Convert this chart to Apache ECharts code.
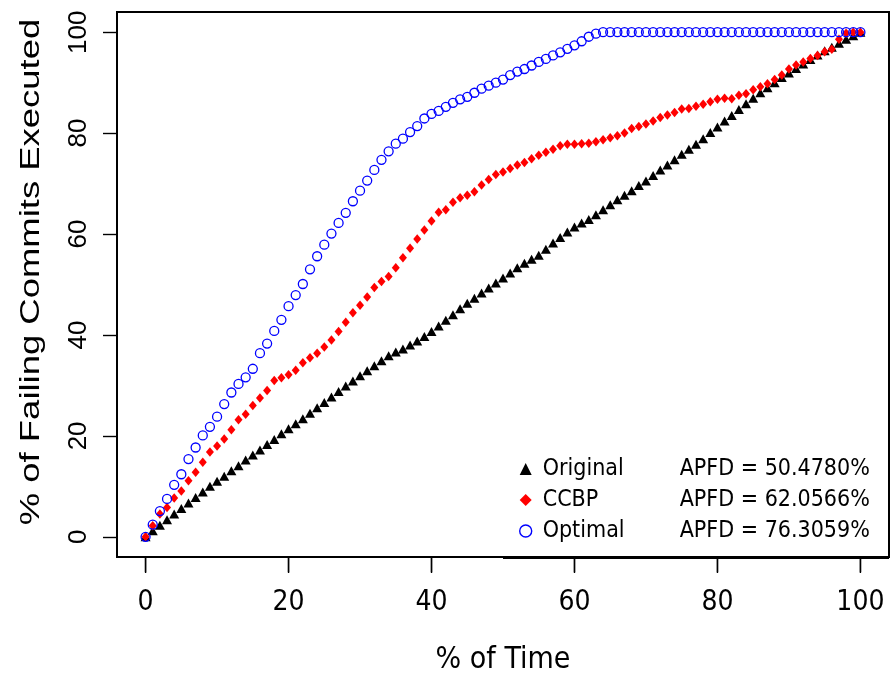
<!DOCTYPE html>
<html>
<head>
<meta charset="utf-8">
<script src="https://cdn.jsdelivr.net/npm/echarts@6/dist/echarts.min.js"></script>
<style>html,body{margin:0;padding:0;background:#fff;}#c{width:891px;height:678px;}</style>
</head>
<body>
<div id="c"></div>
<script>
const timePct = [0,1,2,3,4,5,6,7,8,9,10,11,12,13,14,15,16,17,18,19,20,21,22,23,24,25,26,27,28,29,30,31,32,33,34,35,36,37,38,39,40,41,42,43,44,45,46,47,48,49,50,51,52,53,54,55,56,57,58,59,60,61,62,63,64,65,66,67,68,69,70,71,72,73,74,75,76,77,78,79,80,81,82,83,84,85,86,87,88,89,90,91,92,93,94,95,96,97,98,99,100];
const original = [0,1.2,2.3,3.4,4.5,5.6,6.7,7.8,8.9,10.0,11.0,12.0,13.1,14.1,15.2,16.2,17.2,18.3,19.3,20.4,21.4,22.4,23.4,24.5,25.6,26.6,27.7,28.8,29.9,30.9,31.9,32.9,33.9,34.9,35.9,36.6,37.2,38.0,38.8,39.7,40.7,41.8,42.9,44.0,45.2,46.3,47.3,48.3,49.3,50.3,51.3,52.3,53.3,54.2,55.0,55.8,57.0,58.2,59.3,60.4,61.4,62.2,62.9,63.8,64.8,65.8,66.8,67.7,68.6,69.6,70.5,71.6,72.7,73.7,74.7,75.8,76.8,77.8,78.9,80.1,81.2,82.4,83.5,84.7,85.8,86.9,88.0,89.0,90.0,91.0,91.9,92.8,93.7,94.6,95.5,96.3,97.0,97.8,98.6,99.3,100];
const ccbp = [0,2.2,4.5,5.8,7.7,9.1,11.1,12.8,14.8,16.8,18,19.4,21.2,23.2,24.3,26,27.5,29,31,31.5,32.1,33,34.5,35.5,36.4,37.6,39,40.7,42.5,44.4,45.9,47.5,49.4,50.6,51.6,53.3,55.3,57.2,59,60.8,62.6,64.3,64.8,66.3,67.2,67.7,68.4,69.7,70.8,71.8,72.3,73,73.7,74.2,74.9,75.6,76.2,76.8,77.5,77.8,77.8,77.9,78,78.3,78.7,79.1,79.5,80,80.9,81.3,81.8,82.4,83.1,83.6,84.1,84.8,84.9,85.3,85.7,86.2,86.7,86.9,86.8,87.5,87.8,88.6,89.2,89.8,90.6,91.5,92.7,93.5,94.1,94.8,95.4,96.1,96.6,98.6,99.8,100,100];
const optimal = [0,2.4,5.1,7.5,10.3,12.4,15.4,17.7,20.1,21.8,23.8,26.3,28.6,30.3,31.6,33.3,36.4,38.3,40.8,43,45.7,47.9,50.1,53,55.6,57.9,60.1,62.2,64.2,66.5,68.6,70.6,72.7,74.7,76.4,77.9,78.9,80.2,81.4,82.9,83.8,84.4,85.2,86,86.7,87.2,88,88.8,89.4,90,90.6,91.5,92.2,92.7,93.4,94.1,94.7,95.4,96,96.7,97.4,98.2,99.1,99.7,100,100,100,100,100,100,100,100,100,100,100,100,100,100,100,100,100,100,100,100,100,100,100,100,100,100,100,100,100,100,100,100,100,100,100,100,100];
const seriesNames = ['Original', 'CCBP', 'Optimal'];
const apfdLabels = ['APFD = 50.4780%', 'APFD = 62.0566%', 'APFD = 76.3059%'];
const xTicks = [0, 20, 40, 60, 80, 100];
const yTicks = [0, 20, 40, 60, 80, 100];
const xTitle = '% of Time';
const yTitle = '% of Failing Commits Executed';

const NARROW = "'Liberation Sans Narrow', 'DejaVu Sans Condensed', 'Liberation Sans', sans-serif";
const REG = "'Liberation Sans', Arial, sans-serif";
const AXIS_MIN = -4, AXIS_MAX = 104;

function pairs(ys) { return timePct.map((x, i) => [x, ys[i]]); }

const chart = echarts.init(document.getElementById('c'), null, {renderer: 'canvas'});
chart.setOption({
  backgroundColor: '#fff',
  animation: false,
  grid: {left: 117, right: 2, top: 12, bottom: 121, show: true, borderColor: '#000', borderWidth: 2, backgroundColor: 'transparent', outerBoundsMode: 'none', containLabel: false},
  xAxis: {
    type: 'value', min: AXIS_MIN, max: AXIS_MAX, position: 'bottom',
    axisLine: {show: true, onZero: false, lineStyle: {color: '#000', width: 2}},
    splitLine: {show: false},
    axisTick: {show: true, inside: false, customValues: xTicks, length: 15, lineStyle: {color: '#000', width: 1.4}},
    axisLabel: {customValues: xTicks, margin: 32, fontFamily: NARROW, fontSize: 28, color: '#000'},
    name: xTitle, nameLocation: 'middle', nameGap: 88,
    nameTextStyle: {fontFamily: NARROW, fontSize: 30, color: '#000'}
  },
  yAxis: {
    type: 'value', min: AXIS_MIN, max: AXIS_MAX, position: 'left',
    axisLine: {show: true, onZero: false, lineStyle: {color: '#000', width: 2}},
    splitLine: {show: false},
    axisTick: {show: true, inside: false, customValues: yTicks, length: 14, lineStyle: {color: '#000', width: 1.4}},
    axisLabel: {customValues: yTicks, rotate: 90, margin: 25, fontFamily: REG, fontSize: 26, color: '#000'}
  },
  legend: {
    orient: 'vertical', left: 503, top: 443,
    padding: [14, 6, 9, 16], itemWidth: 12, itemHeight: 12, itemGap: 7,
    backgroundColor: '#fff', borderWidth: 0, z: 10,
    selectedMode: false,
    textStyle: {
      fontFamily: NARROW, fontSize: 23, color: '#000', lineHeight: 24,
      rich: {
        a: {width: 137, padding: [0, 0, 0, 6], fontFamily: NARROW, fontSize: 23, color: '#000', lineHeight: 24},
        b: {fontFamily: NARROW, fontSize: 23, color: '#000', lineHeight: 24}
      }
    },
    formatter: function (name) { const i = seriesNames.indexOf(name); return '{a|' + name + '}{b|' + apfdLabels[i] + '}'; },
    data: [
      {name: seriesNames[0], icon: 'triangle', itemStyle: {color: '#000', opacity: 1}},
      {name: seriesNames[1], icon: 'diamond', itemStyle: {color: '#ff0000', opacity: 1}},
      {name: seriesNames[2], icon: 'circle', itemStyle: {color: '#fff', borderColor: '#0000ff', borderWidth: 1.4, opacity: 1}}
    ]
  },
  graphic: [
    {id: 'legendBottom', type: 'line', z: 100, shape: {x1: 503, y1: 558, x2: 889, y2: 558}, style: {stroke: '#000', lineWidth: 2}},
    {id: 'yTitle', type: 'text', z: 100, x: 32, y: 272, rotation: Math.PI / 2, scaleX: 1.35,
      style: {text: yTitle, font: "27px 'Liberation Sans', Arial, sans-serif", fill: '#000', align: 'center', verticalAlign: 'middle'}}
  ],
  series: [
    {name: seriesNames[0], type: 'scatter', data: pairs(original), symbol: 'triangle', symbolSize: [10, 9], itemStyle: {color: '#000', opacity: 1}, z: 2},
    {name: seriesNames[1], type: 'scatter', data: pairs(ccbp), symbol: 'diamond', symbolSize: [8, 9.5], itemStyle: {color: '#ff0000', opacity: 1}, z: 3},
    {name: seriesNames[2], type: 'scatter', data: pairs(optimal), symbol: 'circle', symbolSize: 9, itemStyle: {color: 'rgba(0,0,0,0)', borderColor: '#0000ff', borderWidth: 1.3, opacity: 1}, z: 4}
  ]
});

// x-axis tick marks placed through the chart's own x scale
const axisBottom = chart.convertToPixel({yAxisIndex: 0}, AXIS_MIN);
const tickMarks = xTicks.map(function (v, i) {
  const px = chart.convertToPixel({xAxisIndex: 0}, v);
  return {id: 'xTick' + i, type: 'line', z: 50, shape: {x1: px, y1: axisBottom + 1, x2: px, y2: axisBottom + 16}, style: {stroke: '#000', lineWidth: 1.4}};
});
chart.setOption({graphic: tickMarks});
</script>
</body>
</html>
